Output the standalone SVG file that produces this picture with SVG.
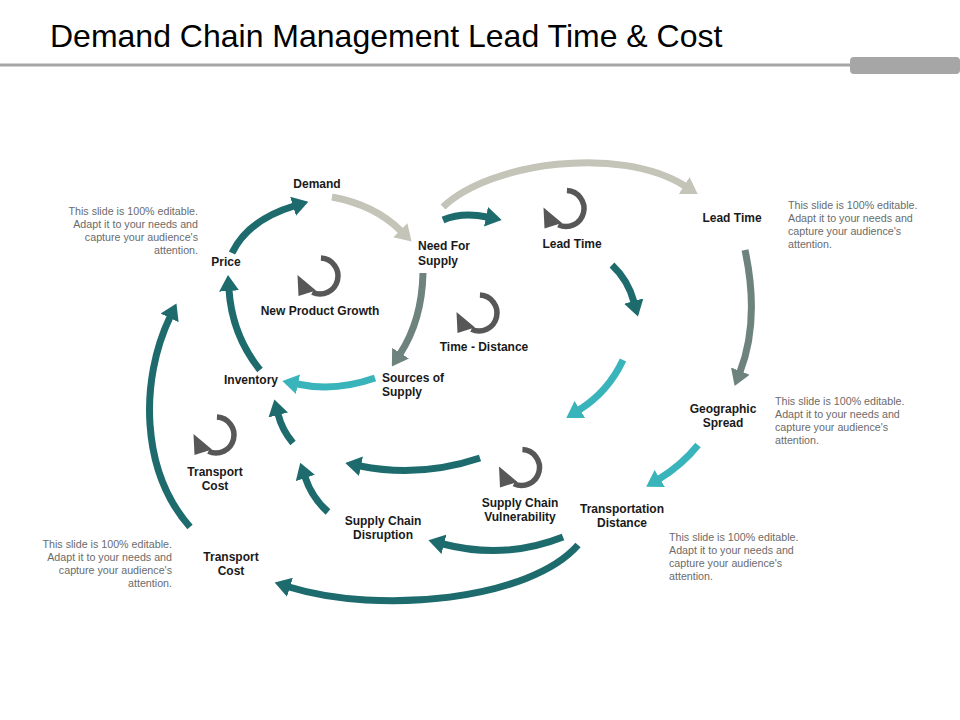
<svg xmlns="http://www.w3.org/2000/svg" xmlns:xlink="http://www.w3.org/1999/xlink" width="960" height="720" viewBox="0 0 960 720">
<defs>
<style>
.lbl{font-family:"Liberation Sans",Arial,sans-serif;font-weight:bold;font-size:12px;fill:#1a1a1a}
.c{text-anchor:middle}
.note{font-family:"Liberation Sans",Arial,sans-serif;font-size:10.7px;fill:#6b6b6b}
.r{text-anchor:end}
.a{fill:none;stroke-width:7}
.teal{stroke:#1e6b6e}
.lgrey{stroke:#c4c4b9}
.ggreen{stroke:#6e827e}
.cyan{stroke:#3ab4bb}
.loop{fill:none;stroke:#575757;stroke-width:5.5}
</style>
<marker id="mTeal" viewBox="0 0 16 20" refX="1" refY="10" markerWidth="16" markerHeight="20" markerUnits="userSpaceOnUse" orient="auto"><path d="M0,0L16,10L0,20z" fill="#1e6b6e"/></marker>
<marker id="mLgrey" viewBox="0 0 16 20" refX="1" refY="10" markerWidth="16" markerHeight="20" markerUnits="userSpaceOnUse" orient="auto"><path d="M0,0L16,10L0,20z" fill="#c4c4b9"/></marker>
<marker id="mGgreen" viewBox="0 0 16 20" refX="1" refY="10" markerWidth="16" markerHeight="20" markerUnits="userSpaceOnUse" orient="auto"><path d="M0,0L16,10L0,20z" fill="#6e827e"/></marker>
<marker id="mCyan" viewBox="0 0 16 20" refX="1" refY="10" markerWidth="16" markerHeight="20" markerUnits="userSpaceOnUse" orient="auto"><path d="M0,0L16,10L0,20z" fill="#3ab4bb"/></marker>
<g id="loopIcon">
<path class="loop" d="M0.94,-17.98 A18,18 0 1 1 -7.61,16.31"/>
<polygon points="-22.5,-1 -21.5,20 -4,14.5" fill="#575757"/>
</g>
</defs>
<rect width="960" height="720" fill="#ffffff"/>
<g id="header">
<text x="50" y="47" font-family="'Liberation Sans',Arial,sans-serif" font-size="32" fill="#000">Demand Chain Management Lead Time &amp; Cost</text>
<rect x="0" y="63.5" width="856" height="3" fill="#a6a6a6"/>
<rect x="850" y="57" width="110" height="17" rx="4" fill="#a6a6a6"/>
</g>
<g id="connectors">
<path class="a teal" marker-end="url(#mTeal)" d="M232,253 Q248,220 294,206"/>
<path class="a lgrey" marker-end="url(#mLgrey)" d="M332,197 Q375,205 401,231"/>
<path class="a ggreen" marker-end="url(#mGgreen)" d="M423,273 Q422,320 400,354"/>
<path class="a cyan" marker-end="url(#mCyan)" d="M375,378 Q335,392 297,384"/>
<path class="a teal" marker-end="url(#mTeal)" d="M260,370 Q232,335 229,290"/>
<path class="a lgrey" marker-end="url(#mLgrey)" d="M443,207 C490,162 620,145 685,186"/>
<path class="a teal" marker-end="url(#mTeal)" d="M443,220 Q462,212 487,217"/>
<path class="a teal" marker-end="url(#mTeal)" d="M612,265 Q628,280 634,302"/>
<path class="a cyan" marker-end="url(#mCyan)" d="M623,360 Q608,392 579,410"/>
<path class="a ggreen" marker-end="url(#mGgreen)" d="M745,250 Q760,320 740,372"/>
<path class="a cyan" marker-end="url(#mCyan)" d="M698,445 Q682,465 659,479"/>
<path class="a teal" marker-end="url(#mTeal)" d="M563,537 Q505,560 443,544"/>
<path class="a teal" marker-end="url(#mTeal)" d="M578,545 C530,600 380,615 289,587"/>
<path class="a teal" marker-end="url(#mTeal)" d="M480,458 Q420,478 360,466"/>
<path class="a teal" marker-end="url(#mTeal)" d="M328,512 Q312,498 305,477"/>
<path class="a teal" marker-end="url(#mTeal)" d="M293,443 Q282,430 278,414"/>
<path class="a teal" marker-end="url(#mTeal)" d="M190,527 C140,470 140,380 170,317"/>
</g>
<g id="demand"><text class="lbl c" x="317" y="188">Demand</text></g>
<g id="need-for-supply"><text class="lbl" x="418" y="250">Need For</text><text class="lbl" x="418" y="265">Supply</text></g>
<g id="price"><text class="lbl c" x="226" y="266">Price</text></g>
<g id="new-product-growth"><use xlink:href="#loopIcon" href="#loopIcon" transform="translate(320,276)"/><text class="lbl c" x="320" y="315">New Product Growth</text></g>
<g id="inventory"><text class="lbl c" x="251" y="384">Inventory</text></g>
<g id="sources-of-supply"><text class="lbl" x="382" y="382">Sources of</text><text class="lbl" x="382" y="396">Supply</text></g>
<g id="lead-time-inner"><use xlink:href="#loopIcon" href="#loopIcon" transform="translate(566,208.5)"/><text class="lbl c" x="572" y="248">Lead Time</text></g>
<g id="time-distance"><use xlink:href="#loopIcon" href="#loopIcon" transform="translate(479,313)"/><text class="lbl c" x="484" y="351">Time - Distance</text></g>
<g id="lead-time-outer"><text class="lbl c" x="732" y="222">Lead Time</text></g>
<g id="geographic-spread"><text class="lbl c" x="723" y="413">Geographic</text><text class="lbl c" x="723" y="427">Spread</text></g>
<g id="transport-cost-inner"><use xlink:href="#loopIcon" href="#loopIcon" transform="translate(216,435)"/><text class="lbl c" x="215" y="476">Transport</text><text class="lbl c" x="215" y="490">Cost</text></g>
<g id="supply-chain-vulnerability"><use xlink:href="#loopIcon" href="#loopIcon" transform="translate(521.5,467.5)"/><text class="lbl c" x="520" y="507">Supply Chain</text><text class="lbl c" x="520" y="521">Vulnerability</text></g>
<g id="transportation-distance"><text class="lbl c" x="622" y="513">Transportation</text><text class="lbl c" x="622" y="527">Distance</text></g>
<g id="supply-chain-disruption"><text class="lbl c" x="383" y="525">Supply Chain</text><text class="lbl c" x="383" y="539">Disruption</text></g>
<g id="transport-cost"><text class="lbl c" x="231" y="561">Transport</text><text class="lbl c" x="231" y="575">Cost</text></g>
<g id="note-top-left"><text class="note r" x="198" y="215">This slide is 100% editable.</text><text class="note r" x="198" y="228">Adapt it to your needs and</text><text class="note r" x="198" y="241">capture your audience's</text><text class="note r" x="198" y="254">attention.</text></g>
<g id="note-top-right"><text class="note" x="788" y="209">This slide is 100% editable.</text><text class="note" x="788" y="222">Adapt it to your needs and</text><text class="note" x="788" y="235">capture your audience's</text><text class="note" x="788" y="248">attention.</text></g>
<g id="note-mid-right"><text class="note" x="775" y="405">This slide is 100% editable.</text><text class="note" x="775" y="418">Adapt it to your needs and</text><text class="note" x="775" y="431">capture your audience's</text><text class="note" x="775" y="444">attention.</text></g>
<g id="note-bottom-right"><text class="note" x="669" y="541">This slide is 100% editable.</text><text class="note" x="669" y="554">Adapt it to your needs and</text><text class="note" x="669" y="567">capture your audience's</text><text class="note" x="669" y="580">attention.</text></g>
<g id="note-bottom-left"><text class="note r" x="172" y="548">This slide is 100% editable.</text><text class="note r" x="172" y="561">Adapt it to your needs and</text><text class="note r" x="172" y="574">capture your audience's</text><text class="note r" x="172" y="587">attention.</text></g>
</svg>
